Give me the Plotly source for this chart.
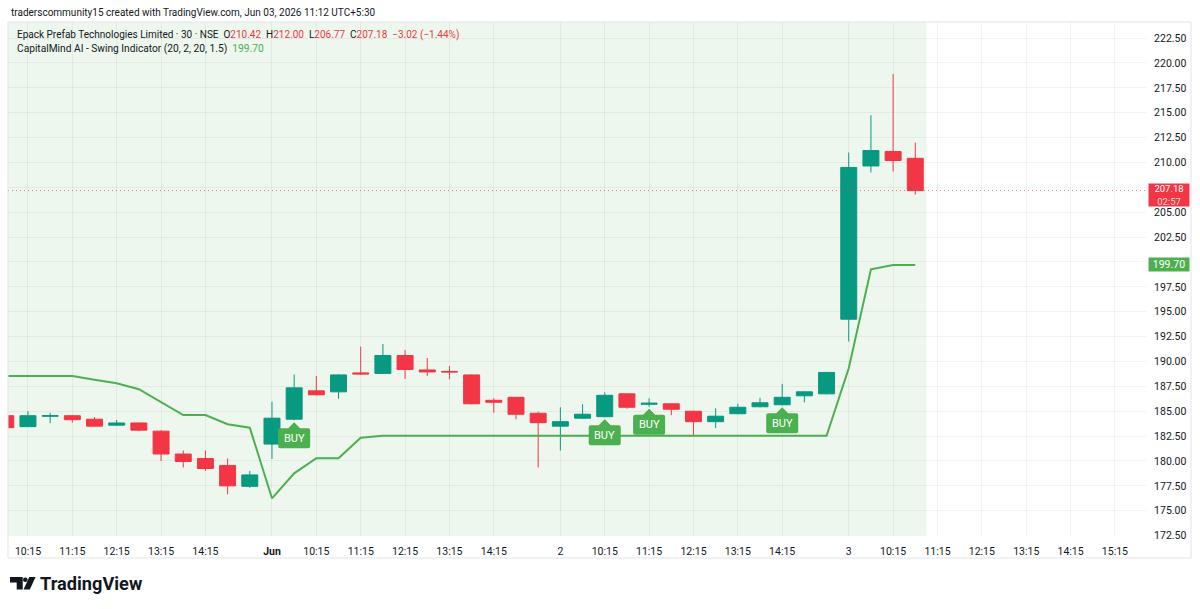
import plotly.graph_objects as go

# ---------------- data ----------------
bar_index = list(range(1, 43))
opens = [184.55, 183.45, 184.50, 184.55, 184.20, 183.60, 183.82, 183.00, 180.70, 180.25,
         179.55, 177.45, 181.70, 184.20, 187.05, 186.95, 188.85, 188.80, 190.60, 189.15,
         189.00, 188.65, 186.10, 186.40, 184.80, 183.50, 184.30, 184.45, 186.75, 185.70,
         185.75, 185.00, 183.95, 184.75, 185.45, 185.65, 186.55, 186.75, 194.25, 209.65,
         211.10, 210.42]
highs = [184.70, 185.00, 184.85, 184.60, 184.40, 184.12, 183.85, 183.10, 181.05, 181.05,
         180.25, 179.00, 185.95, 188.70, 188.55, 188.70, 191.50, 191.75, 191.15, 190.35,
         189.55, 188.70, 186.30, 186.45, 184.95, 185.40, 185.70, 186.90, 186.80, 186.30,
         185.80, 185.05, 185.30, 185.75, 186.35, 187.75, 187.00, 188.95, 211.00, 214.75,
         218.90, 212.00]
lows = [183.20, 183.45, 183.80, 183.85, 183.45, 183.55, 183.00, 180.00, 179.35, 179.00,
        176.65, 177.30, 180.20, 184.10, 186.60, 186.25, 188.65, 188.75, 188.25, 188.55,
        188.20, 185.70, 184.85, 184.20, 179.35, 181.05, 184.20, 184.40, 185.25, 185.45,
        184.60, 182.60, 183.30, 184.70, 185.40, 185.60, 185.90, 186.70, 192.00, 209.00,
        209.10, 206.77]
closes = [183.35, 184.55, 184.55, 184.15, 183.50, 183.82, 183.10, 180.70, 179.95, 179.25,
          177.50, 178.60, 184.30, 187.35, 186.65, 188.65, 188.75, 190.60, 189.20, 188.95,
          188.95, 185.75, 185.90, 184.70, 183.85, 183.95, 184.70, 186.60, 185.40, 185.80,
          185.20, 183.95, 184.50, 185.40, 185.85, 186.40, 186.95, 188.90, 209.50, 211.20,
          210.20, 207.18]
swing_line = [188.54, 188.54, 188.54, 188.54, 188.17, 187.81, 187.21, 185.91, 184.62, 184.62,
              183.69, 183.35, 176.25, 178.76, 180.27, 180.27, 182.34, 182.54, 182.54, 182.54,
              182.54, 182.54, 182.54, 182.54, 182.54, 182.54, 182.54, 182.54, 182.54, 182.54,
              182.54, 182.54, 182.54, 182.54, 182.54, 182.54, 182.54, 182.54, 189.32, 199.27,
              199.70, 199.70]
buy_bars = [14, 28, 30, 36]

x_tick_vals = [2, 4, 6, 8, 10, 13, 15, 17, 19, 21, 23, 26, 28, 30, 32, 34, 36, 39, 41, 43, 45, 47, 49, 51]
x_tick_text = ["10:15", "11:15", "12:15", "13:15", "14:15", "<b>Jun</b>", "10:15", "11:15", "12:15",
               "13:15", "14:15", "2", "10:15", "11:15", "12:15", "13:15", "14:15", "3", "10:15",
               "11:15", "12:15", "13:15", "14:15", "15:15"]
y_tick_vals = [172.5 + 2.5 * k for k in range(21)]
# the 207.50 label sits fully behind the live price badge
y_tick_text = ["" if abs(v - 207.5) < 1e-9 else f"{v:.2f}" for v in y_tick_vals]

last_price = 207.18
swing_last = 199.70

UP = "#089981"
DOWN = "#f23645"
LINE_GREEN = "#4caf50"
TEXT = "#131722"
FONT = "Roboto"

# ---------------- layout geometry ----------------
W, H = 1200, 609
PL, PR, PT, PB = 8, 1146, 22, 536


def px(x):
    return (x - PL) / (PR - PL)


def py(y):
    return (PB - y) / (PB - PT)


fig = go.Figure()

fig.add_trace(go.Candlestick(
    x=bar_index, open=opens, high=highs, low=lows, close=closes,
    increasing=dict(line=dict(color=UP, width=1), fillcolor=UP),
    decreasing=dict(line=dict(color=DOWN, width=1), fillcolor=DOWN),
    whiskerwidth=0, hoverinfo="skip", showlegend=False,
))

fig.add_trace(go.Scatter(
    x=bar_index, y=swing_line, mode="lines",
    line=dict(color=LINE_GREEN, width=2), hoverinfo="skip", showlegend=False,
))

shapes = []
annotations = []

# green session shading
shapes.append(dict(type="rect", xref="x", yref="paper", x0=0, x1=42.5, y0=0, y1=1,
                   fillcolor="rgba(76,175,80,0.1)", line=dict(width=0), layer="below"))

# current price dotted line
shapes.append(dict(type="line", xref="paper", yref="y", x0=0, x1=1, y0=last_price, y1=last_price,
                   line=dict(color="rgba(242,54,69,0.65)", width=1, dash="1px,3px")))

# BUY callouts
callout = ("M0,-2 L6,-8 L14,-8 Q16,-8 16,-10 L16,-26 Q16,-28 14,-28 L-14,-28 "
           "Q-16,-28 -16,-26 L-16,-10 Q-16,-8 -14,-8 L-6,-8 Z")
for b in buy_bars:
    low_val = lows[bar_index.index(b)]
    shapes.append(dict(type="path", xref="x", yref="y", xsizemode="pixel", ysizemode="pixel",
                       xanchor=b, yanchor=low_val, path=callout,
                       fillcolor=LINE_GREEN, line=dict(width=0)))
    annotations.append(dict(x=b, y=low_val, xref="x", yref="y", text="BUY", showarrow=False,
                            yanchor="middle", yshift=-18,
                            font=dict(family=FONT, size=11, color="white")))

# outer frame
shapes.append(dict(type="rect", xref="paper", yref="paper", x0=px(8), x1=px(1191),
                   y0=py(558), y1=py(22), line=dict(color="#e0e3eb", width=1),
                   fillcolor="rgba(0,0,0,0)", layer="above"))

# price labels on axis
annotations.append(dict(xref="paper", yref="y", x=px(1148), y=last_price, xanchor="left",
                        yanchor="top", yshift=8, showarrow=False,
                        text="207.18<br><span style='color:#ffd6da'>02:57</span>",
                        bgcolor=DOWN, width=40, height=22, borderpad=0, align="center",
                        font=dict(family=FONT, size=9.5, color="white")))
annotations.append(dict(xref="paper", yref="y", x=px(1148), y=swing_last, xanchor="left",
                        yanchor="middle", showarrow=False, text="199.70",
                        bgcolor=LINE_GREEN, width=40, height=13, borderpad=0, align="center",
                        font=dict(family=FONT, size=10.5, color="white")))

# header attribution
annotations.append(dict(xref="paper", yref="paper", x=px(9), y=py(12.5), xanchor="left",
                        yanchor="middle", showarrow=False,
                        text="traderscommunity15 created with TradingView.com, Jun 03, 2026 11:12 UTC+5:30",
                        font=dict(family=FONT, size=10, color=TEXT)))

# legend lines
nb = "\u00a0"
red = lambda s: f"<span style='color:{DOWN}'>{s}</span>"
line1 = (f"Epack Prefab Technologies Limited · 30 · NSE{nb}{nb}O{red('210.42')}{nb}{nb}H{red('212.00')}"
         f"{nb}{nb}L{red('206.77')}{nb}{nb}C{red('207.18')}{nb}{nb}{red('−3.02 (−1.44%)')}")
line2 = f"CapitalMind AI - Swing Indicator (20, 2, 20, 1.5){nb}{nb}<span style='color:{LINE_GREEN}'>199.70</span>"
annotations.append(dict(xref="paper", yref="paper", x=px(15), y=py(35), xanchor="left",
                        yanchor="middle", showarrow=False, text=line1,
                        font=dict(family=FONT, size=10, color=TEXT)))
annotations.append(dict(xref="paper", yref="paper", x=px(15), y=py(49), xanchor="left",
                        yanchor="middle", showarrow=False, text=line2,
                        font=dict(family=FONT, size=10.2, color=TEXT)))


# TradingView logo
def ppath(points):
    return "M" + " L".join(f"{px(a):.5f},{py(b):.5f}" for a, b in points) + " Z"


shapes.append(dict(type="path", xref="paper", yref="paper",
                   path=ppath([(10, 577), (22.7, 577), (22.7, 589.5), (16.7, 589.5), (16.7, 582.5), (10, 582.5)]),
                   fillcolor=TEXT, line=dict(width=0)))
shapes.append(dict(type="circle", xref="paper", yref="paper",
                   x0=px(23.0), x1=px(27.6), y0=py(582.0), y1=py(577.4),
                   fillcolor=TEXT, line=dict(width=0)))
shapes.append(dict(type="path", xref="paper", yref="paper",
                   path=ppath([(29.3, 577), (35.6, 577), (29.8, 589.5), (23.5, 589.5)]),
                   fillcolor=TEXT, line=dict(width=0)))
annotations.append(dict(xref="paper", yref="paper", x=px(38), y=py(583.5), xanchor="left",
                        yanchor="middle", showarrow=False, text="<b>TradingView</b>",
                        font=dict(family=FONT, size=18.2, color=TEXT)))

GRID = "rgba(42,46,57,0.06)"
fig.update_layout(
    width=W, height=H,
    margin=dict(l=PL, r=W - PR, t=PT, b=H - PB, pad=0),
    paper_bgcolor="white", plot_bgcolor="rgba(0,0,0,0)",
    shapes=shapes, annotations=annotations,
    showlegend=False, hovermode=False, boxgap=0.1, boxgroupgap=0.2,
    font=dict(family=FONT, color=TEXT),
    xaxis=dict(
        range=[1.10, 52.40], tickmode="array", tickvals=x_tick_vals, ticktext=x_tick_text,
        showgrid=True, gridcolor=GRID, gridwidth=1, zeroline=False, showline=False,
        ticks="outside", ticklen=5, tickcolor="rgba(0,0,0,0)",
        tickfont=dict(family=FONT, size=10.5, color=TEXT),
        rangeslider=dict(visible=False), fixedrange=True,
    ),
    yaxis=dict(
        range=[172.46, 224.12], side="right", tickmode="array", tickvals=y_tick_vals,
        ticktext=y_tick_text,
        showgrid=True, gridcolor=GRID, gridwidth=1, zeroline=False, showline=False,
        ticks="outside", ticklen=5, tickcolor="rgba(0,0,0,0)",
        tickfont=dict(family=FONT, size=10.5, color=TEXT), fixedrange=True,
    ),
)

fig.write_html("out.html", config={"displayModeBar": False})
